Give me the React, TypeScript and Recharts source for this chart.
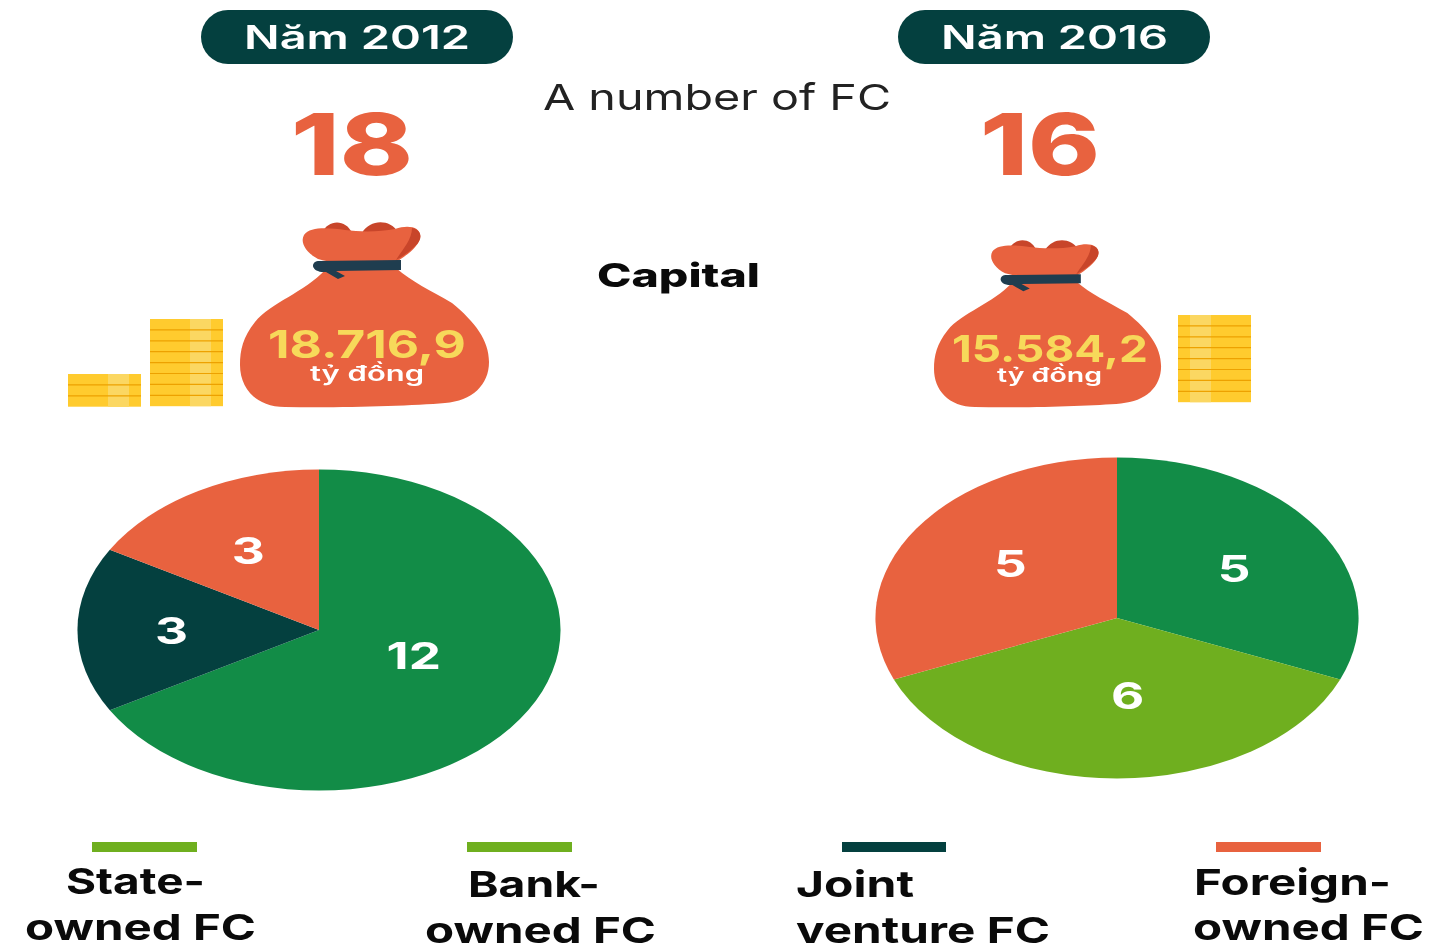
import { PieChart, Pie, Cell } from "recharts";

const FONT = "Inter, 'Open Sans', sans-serif";
const GREEN = "#128C47";
const LIME = "#6FAF1F";
const DARK = "#04403F";
const ORANGE = "#E8623F";

const categories2012 = ["State-owned FC", "Joint venture FC", "Foreign-owned FC"];
const values2012 = [12, 3, 3];
const colors2012 = [GREEN, DARK, ORANGE];

const categories2016 = ["State-owned FC", "Bank-owned FC", "Foreign-owned FC"];
const values2016 = [5, 6, 5];
const colors2016 = [GREEN, LIME, ORANGE];

const data2012 = categories2012.map((name, i) => ({ name, value: values2012[i] }));
const data2016 = categories2016.map((name, i) => ({ name, value: values2016[i] }));

// label nudges in the pie's own (unstretched) space
const nudge2012 = [[-15, -19], [-8, 1], [-2, -1]];
const nudge2016 = [[3, 1], [7, -12], [4, -4]];

const LABEL_RADIUS = 90;
const CHART_SIZE = 330;
const STRETCH = 1.505;

const pieLabel = (nudge: number[][]) => (props: any) => {
  const { cx, cy, midAngle, index, value } = props;
  const rad = (-midAngle * Math.PI) / 180;
  const x = cx + LABEL_RADIUS * Math.cos(rad) + nudge[index][0];
  const y = cy + LABEL_RADIUS * Math.sin(rad) + nudge[index][1];
  return (
    <text
      x={x}
      y={y}
      fill='#fff'
      fontFamily={FONT}
      fontWeight={700}
      fontSize={37}
      textAnchor='middle'
      dominantBaseline='central'
      transform={`translate(${x} 0) scale(0.92 1) translate(${-x} 0)`}
    >
      {value}
    </text>
  );
};

function StretchedPie({
  data,
  colors,
  nudge,
  centerX,
  centerY,
}: {
  data: { name: string; value: number }[];
  colors: string[];
  nudge: number[][];
  centerX: number;
  centerY: number;
}) {
  return (
    <div
      style={{
        position: "absolute",
        left: centerX - CHART_SIZE / 2,
        top: centerY - CHART_SIZE / 2,
        width: CHART_SIZE,
        height: CHART_SIZE,
        transform: `scaleX(${STRETCH})`,
      }}
    >
      <PieChart
        width={CHART_SIZE}
        height={CHART_SIZE}
        margin={{ top: 0, right: 0, bottom: 0, left: 0 }}
      >
        <Pie
          data={data}
          dataKey='value'
          nameKey='name'
          cx='50%'
          cy='50%'
          innerRadius={0}
          outerRadius={160.5}
          startAngle={90}
          endAngle={-270}
          stroke='none'
          label={pieLabel(nudge)}
          labelLine={false}
          isAnimationActive={false}
        >
          {data.map((_, index) => (
            <Cell key={`cell-${index}`} fill={colors[index]} />
          ))}
        </Pie>
      </PieChart>
    </div>
  );
}

// text fitted to a given left edge and width
function Fit({
  x,
  y,
  w,
  size,
  weight = 700,
  fill = "#0a0a0a",
  children,
}: {
  x: number;
  y: number;
  w: number;
  size: number;
  weight?: number;
  fill?: string;
  children: string;
}) {
  return (
    <text
      x={x}
      y={y}
      textLength={w}
      lengthAdjust='spacingAndGlyphs'
      fontFamily={FONT}
      fontWeight={weight}
      fontSize={size}
      fill={fill}
    >
      {children}
    </text>
  );
}

function Bag({ transform }: { transform?: string }) {
  return (
    <g transform={transform}>
      <path
        d='M322 233 C328 219 346 219 352 233 Z M362 233 C370 219 390 219 398 232 Z'
        fill='#C8452A'
      />
      <path
        d='M318 259 C305 252 300 242 304 235 C310 226 330 228 345 230 C360 232 380 232 395 229 C410 224 422 228 420 238 C418 248 405 256 398 261 C370 265 340 265 318 259 Z'
        fill={ORANGE}
      />
      <path
        d='M412 228 C422 230 422 238 418 243 C412 250 404 256 396 260 C402 250 412 240 412 228 Z'
        fill='#C8452A'
      />
      <path
        d='M325 270 C305 292 270 303 255 322 C243 337 240 350 240 365 C240 388 256 407 285 407 C340 408 410 406 445 403 C472 401 489 385 489 362 C489 340 475 322 452 303 C430 290 412 282 396 268 Z'
        fill={ORANGE}
      />
      <path
        d='M318 261 L401 260 L401 270 L336 271 L345 276 L338 279 L326 272 C311 273 310 262 318 261 Z'
        fill='#1F3D4F'
      />
    </g>
  );
}

function Coins({
  x,
  y,
  rows,
  shine,
}: {
  x: number;
  y: number;
  rows: number;
  shine: number;
}) {
  const h = rows * 10.9;
  return (
    <g>
      <rect x={x} y={y} width={73} height={h} fill='#FFCB2E' />
      <rect x={x + shine} y={y} width={21} height={h} fill='#FBD762' />
      {Array.from({ length: rows }).map((_, i) =>
        i === 0 ? null : (
          <line
            key={i}
            x1={x}
            x2={x + 73}
            y1={y + i * 10.9}
            y2={y + i * 10.9}
            stroke='#EDA100'
            strokeWidth={1.2}
          />
        )
      )}
    </g>
  );
}

export default function App() {
  return (
    <div
      style={{
        position: "absolute",
        left: 0,
        top: 0,
        width: 1434,
        height: 944,
        overflow: "hidden",
        background: "#fff",
        filter: "blur(0.5px)",
      }}
    >
      <svg
        width={1434}
        height={944}
        style={{ position: "absolute", left: 0, top: 0 }}
      >
        <rect x={201} y={10} width={312} height={54} rx={27} fill={DARK} />
        <rect x={898} y={10} width={312} height={54} rx={27} fill={DARK} />
        <Fit x={244} y={49} w={226} size={33} weight={600} fill='#fff'>
          Năm 2012
        </Fit>
        <Fit x={941} y={49} w={227} size={33} weight={600} fill='#fff'>
          Năm 2016
        </Fit>
        <Fit x={543} y={110} w={348} size={36} weight={400} fill='#222'>
          A number of FC
        </Fit>
        <Fit x={291} y={175} w={122} size={85} weight={800} fill={ORANGE}>
          18
        </Fit>
        <Fit x={980} y={175} w={120} size={85} weight={800} fill={ORANGE}>
          16
        </Fit>
        <Fit x={597} y={287} w={163} size={33} weight={800}>
          Capital
        </Fit>

        <Coins x={68} y={374} rows={3} shine={40} />
        <Coins x={150} y={319} rows={8} shine={40} />
        <Coins x={1178} y={315} rows={8} shine={12} />

        <Bag />
        <Bag transform='translate(934 238) scale(0.912 0.904) translate(-240 -220)' />

        <Fit x={268} y={358} w={198} size={38} weight={700} fill='#F7D95A'>
          18.716,9
        </Fit>
        <Fit x={310} y={381} w={114} size={21} weight={600} fill='#fff'>
          tỷ đồng
        </Fit>
        <Fit x={952} y={362} w={196} size={37} weight={700} fill='#F7D95A'>
          15.584,2
        </Fit>
        <Fit x={997} y={382} w={105} size={20} weight={600} fill='#fff'>
          tỷ đồng
        </Fit>

        <rect x={92} y={842} width={105} height={10} fill={LIME} />
        <rect x={467} y={842} width={105} height={10} fill={LIME} />
        <rect x={842} y={842} width={104} height={10} fill={DARK} />
        <rect x={1216} y={842} width={105} height={10} fill={ORANGE} />

        <Fit x={66} y={894} w={139} size={36}>State-</Fit>
        <Fit x={25} y={940} w={231} size={36}>owned FC</Fit>
        <Fit x={468} y={897} w={132} size={36}>Bank-</Fit>
        <Fit x={425} y={943} w={231} size={36}>owned FC</Fit>
        <Fit x={796} y={897} w={118} size={36}>Joint</Fit>
        <Fit x={796} y={943} w={254} size={36}>venture FC</Fit>
        <Fit x={1194} y={895} w={197} size={36}>Foreign-</Fit>
        <Fit x={1193} y={940} w={231} size={36}>owned FC</Fit>
      </svg>

      <StretchedPie
        data={data2012}
        colors={colors2012}
        nudge={nudge2012}
        centerX={319}
        centerY={629.5}
      />
      <StretchedPie
        data={data2016}
        colors={colors2016}
        nudge={nudge2016}
        centerX={1117}
        centerY={617.5}
      />
    </div>
  );
}
